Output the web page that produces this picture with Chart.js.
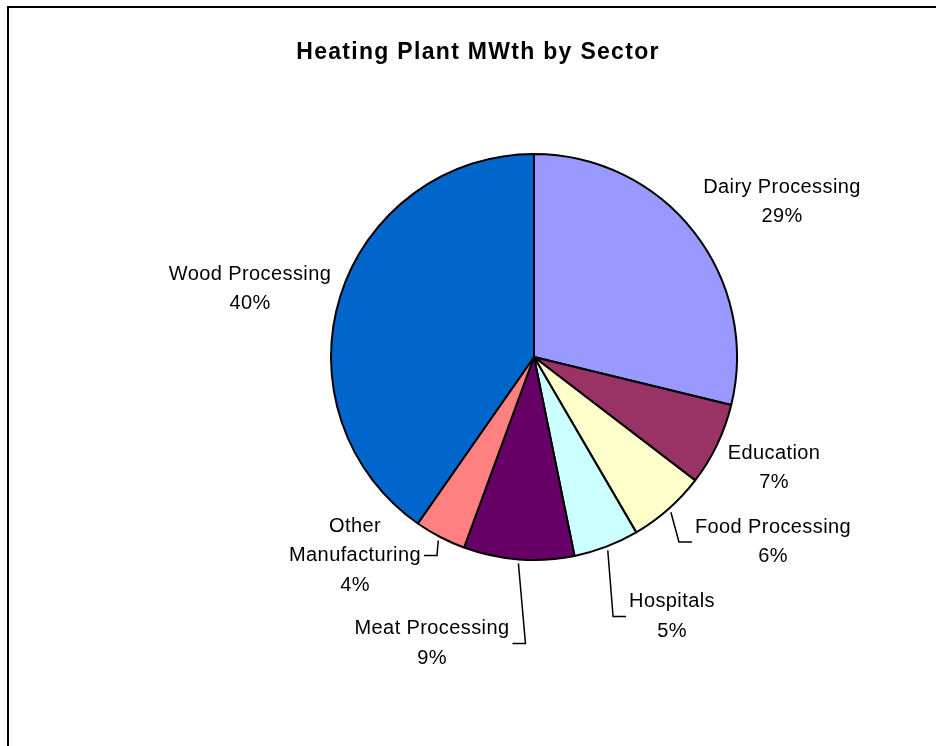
<!DOCTYPE html>
<html><head><meta charset="utf-8">
<script src="https://cdn.jsdelivr.net/npm/chart.js@4.4.1/dist/chart.umd.min.js"></script>
<style>html,body{margin:0;padding:0;background:#fff}#wrap{width:936px;height:746px;position:relative}</style>
</head><body><div id="wrap"><canvas id="c"></canvas></div>
<script>
// ---- data ----
const categories = ['Dairy Processing','Education','Food Processing','Hospitals','Meat Processing','Other Manufacturing','Wood Processing'];
const shares = [28.8, 6.6, 6.2, 5.2, 8.8, 4.1, 40.3];
const chartTitle = 'Heating Plant MWth by Sector';

// ---- style / layout ----
const colors = ['#9999FF','#993366','#FFFFCC','#CCFFFF','#660066','#FF8080','#0066CC'];
const labelLines = [['Dairy Processing'],['Education'],['Food Processing'],['Hospitals'],['Meat Processing'],['Other','Manufacturing'],['Wood Processing']];
const labelOffsets = [[248,-155],[240,111],[239,185],[138,259.5],[-102,286.5],[-179,198.5],[-284,-68]];
const leaderSide = [null,null,'left','left','right','right',null];
const LABEL_FONT = '20px "Liberation Sans", Arial, sans-serif';
const LINE_H = 29.5;

const decor = {
  id: 'decor',
  beforeDraw(chart) {
    const ctx = chart.ctx;
    ctx.save();
    ctx.fillStyle = '#fff';
    ctx.fillRect(0, 0, chart.width, chart.height);
    ctx.strokeStyle = '#000';
    ctx.lineWidth = 2;
    ctx.strokeRect(8, 7, 940, 800);
    ctx.restore();
  },
  afterDraw(chart) {
    const ctx = chart.ctx;
    const meta = chart.getDatasetMeta(0);
    const total = shares.reduce((a, b) => a + b, 0);
    ctx.save();
    // title
    ctx.fillStyle = '#000';
    ctx.font = 'bold 23px "Liberation Sans", Arial, sans-serif';
    try { ctx.letterSpacing = '1.3px'; } catch (e) {}
    ctx.textAlign = 'center';
    ctx.textBaseline = 'alphabetic';
    ctx.fillText(chartTitle, 478, 59);
    // labels
    ctx.font = LABEL_FONT;
    try { ctx.letterSpacing = '0.4px'; } catch (e) {}
    ctx.textBaseline = 'middle';
    meta.data.forEach((arc, i) => {
      const p = arc.getProps(['x','y','startAngle','endAngle','outerRadius'], true);
      const lines = labelLines[i].slice();
      lines.push(Math.round(shares[i] / total * 100) + '%');
      const cx = p.x + labelOffsets[i][0];
      const cy = p.y + labelOffsets[i][1];
      let maxW = 0;
      lines.forEach((t, k) => {
        const y = cy + (k - (lines.length - 1) / 2) * LINE_H;
        ctx.fillText(t, cx, y);
        maxW = Math.max(maxW, ctx.measureText(t).width);
      });
      if (leaderSide[i]) {
        const mid = (p.startAngle + p.endAngle) / 2;
        const r = p.outerRadius + 4;
        const sx = p.x + Math.cos(mid) * r;
        const sy = p.y + Math.sin(mid) * r;
        const edge = leaderSide[i] === 'left' ? cx - maxW / 2 - 3 : cx + maxW / 2 + 3;
        const ex = leaderSide[i] === 'left' ? edge - 13 : edge + 13;
        ctx.beginPath();
        ctx.strokeStyle = '#000';
        ctx.lineWidth = 1.5;
        ctx.moveTo(sx, sy);
        ctx.lineTo(ex, cy);
        ctx.lineTo(edge, cy);
        ctx.stroke();
      }
    });
    ctx.restore();
  }
};

new Chart(document.getElementById('c'), {
  type: 'pie',
  data: {
    labels: categories,
    datasets: [{
      data: shares,
      backgroundColor: colors,
      borderColor: '#000',
      borderWidth: 2,
      radius: 203
    }]
  },
  options: {
    responsive: true,
    maintainAspectRatio: false,
    animation: false,
    events: [],
    layout: { padding: { left: 132, right: 0, top: 0, bottom: 32 } },
    plugins: { legend: { display: false }, tooltip: { enabled: false }, title: { display: false } }
  },
  plugins: [decor]
});
</script>
</body></html>
